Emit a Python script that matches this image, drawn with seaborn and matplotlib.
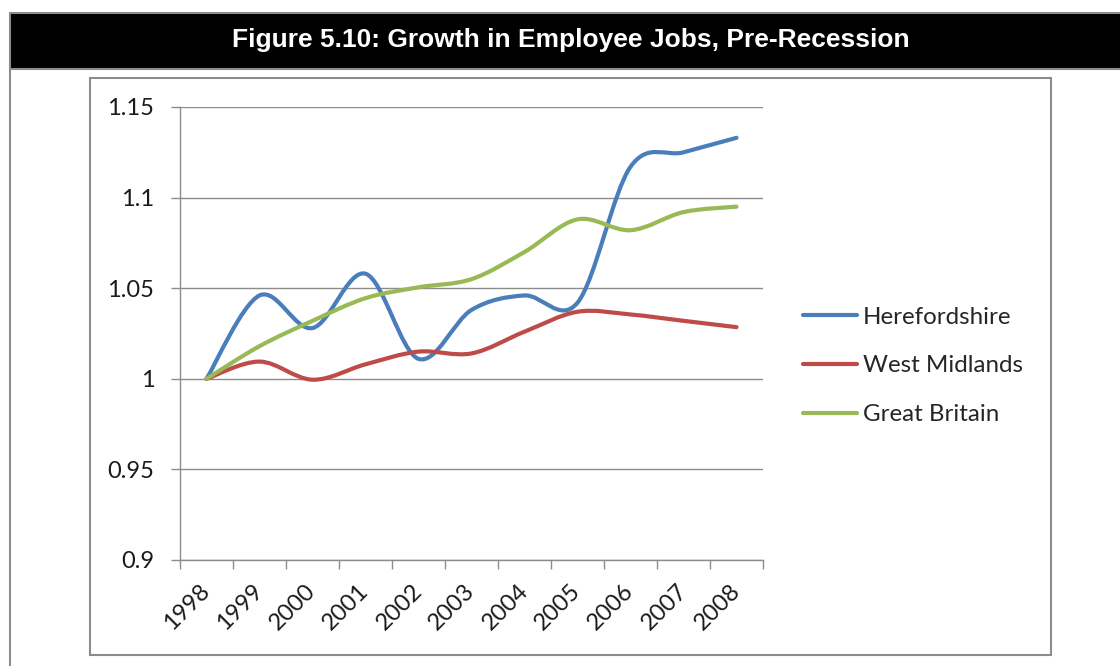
import numpy as np
import pandas as pd
import matplotlib
matplotlib.use('Agg')
import matplotlib.pyplot as plt
import seaborn as sns
from matplotlib.path import Path
from matplotlib.patches import PathPatch, Rectangle
from matplotlib.lines import Line2D

# data (index, 1998 = 1)
years = [1998, 1999, 2000, 2001, 2002, 2003, 2004, 2005, 2006, 2007, 2008]
herefordshire = [1.000, 1.046, 1.028, 1.058, 1.011, 1.038, 1.046, 1.042, 1.117, 1.125, 1.133]
west_midlands = [1.000, 1.0095, 0.9995, 1.008, 1.015, 1.014, 1.026, 1.037, 1.0355, 1.032, 1.0285]
great_britain = [1.000, 1.018, 1.032, 1.0445, 1.0505, 1.055, 1.070, 1.088, 1.082, 1.092, 1.095]

series_names = ['Herefordshire', 'West Midlands', 'Great Britain']
series_colors = ['#4A7EBB', '#BE4B48', '#98B954']
y_ticks = [0.9, 0.95, 1.0, 1.05, 1.1, 1.15]
y_tick_labels = ['0.9', '0.95', '1', '1.05', '1.1', '1.15']
title = 'Figure 5.10: Growth in Employee Jobs, Pre-Recession'

W, H = 1120, 666
GREY = '#8c8c8c'


def fx(x):
    return x / W


def fy(y):
    return 1 - y / H


def smooth_path(xy):
    # excel-style smoothed line through the drawn vertices
    n = len(xy)
    verts = [xy[0]]
    codes = [Path.MOVETO]
    for i in range(n - 1):
        p0 = xy[max(i - 1, 0)]
        p1 = xy[i]
        p2 = xy[i + 1]
        p3 = xy[min(i + 2, n - 1)]
        verts += [p1 + (p2 - p0) / 6, p2 - (p3 - p1) / 6, p2]
        codes += [Path.CURVE4] * 3
    return Path(verts, codes)


df = pd.DataFrame({
    'year': years * 3,
    'value': herefordshire + west_midlands + great_britain,
    'area': np.repeat(series_names, len(years)),
})

sns.set_theme(style='white')
plt.rcParams['font.family'] = ['Lato', 'DejaVu Sans']

fig = plt.figure(figsize=(11.2, 6.66), dpi=100)

# frame, title bar and chart box
fig.add_artist(Rectangle((fx(10), fy(68)), fx(1120) - fx(10), fy(14) - fy(68),
                         transform=fig.transFigure, facecolor='black', edgecolor='none'))
fig.add_artist(Line2D([fx(10), fx(10)], [fy(13), fy(666)], color=GREY, lw=1.5, transform=fig.transFigure))
fig.add_artist(Line2D([fx(10), fx(1120)], [fy(13), fy(13)], color=GREY, lw=1.5, transform=fig.transFigure))
fig.add_artist(Line2D([fx(10), fx(1120)], [fy(69), fy(69)], color=GREY, lw=1.5, transform=fig.transFigure))
fig.add_artist(Rectangle((fx(90), fy(655)), fx(1051) - fx(90), fy(78) - fy(655),
                         transform=fig.transFigure, fill=False, edgecolor=GREY, lw=1.5))
fig.text(fx(571), fy(40), title, color='white', fontsize=19, fontweight='bold',
         family=['Liberation Sans', 'DejaVu Sans'], ha='center', va='center')

ax = fig.add_axes([fx(180), fy(560), fx(763) - fx(180), fy(107) - fy(560)])

sns.lineplot(data=df, x='year', y='value', hue='area', hue_order=series_names,
             palette=series_colors, linewidth=3, ax=ax)

handles, labels = ax.get_legend_handles_labels()
ax.legend(handles, labels, loc='center left', bbox_to_anchor=(fx(803), fy(366)),
          bbox_transform=fig.transFigure, frameon=False, fontsize=17.4,
          handlelength=2.23, handletextpad=0.25, labelspacing=1.15,
          borderpad=0, borderaxespad=0)

# swap the straight segments for smoothed curves through the same vertices
for line in list(ax.get_lines()):
    xy = line.get_xydata()
    if len(xy) < 2:
        continue
    patch = PathPatch(smooth_path(xy), fill=False,
                      edgecolor=line.get_color(), lw=line.get_linewidth(),
                      capstyle='round', joinstyle='round', zorder=3)
    ax.add_patch(patch)
    line.set_visible(False)

ax.set_xlim(years[0] - 0.5, years[-1] + 0.5)
ax.set_ylim(y_ticks[0], y_ticks[-1])
ax.set_xticks(years)
ax.set_xticklabels([str(y) for y in years], rotation=45, ha='right', va='center',
                   rotation_mode='anchor', fontsize=17)
ax.set_xticks([y - 0.5 for y in years] + [years[-1] + 0.5], minor=True)
ax.set_yticks(y_ticks)
ax.set_yticklabels(y_tick_labels, fontsize=17)
ax.set_xlabel('')
ax.set_ylabel('')

ax.tick_params(axis='x', which='major', bottom=True, length=0, pad=20, labelcolor='#1a1a1a')
ax.tick_params(axis='x', which='minor', bottom=True, length=6.5, width=1, color=GREY, direction='out')
ax.tick_params(axis='y', left=True, length=6.5, width=1, color=GREY, pad=12, labelcolor='#1a1a1a')

ax.yaxis.grid(True, color=GREY, lw=1)
ax.set_axisbelow(True)
for side in ['top', 'right']:
    ax.spines[side].set_visible(False)
for side in ['left', 'bottom']:
    ax.spines[side].set_color(GREY)
    ax.spines[side].set_linewidth(1)

fig.savefig('out.png', dpi=100)
